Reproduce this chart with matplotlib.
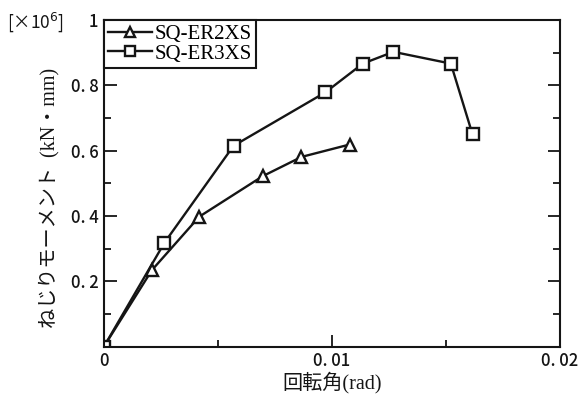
import matplotlib
matplotlib.use("Agg")
import matplotlib.pyplot as plt
from matplotlib.ticker import MultipleLocator, FixedLocator

plt.rcParams['font.family'] = ['Noto Sans CJK JP', 'DejaVu Sans']

er2_x = [0.0, 0.0021, 0.00418, 0.00696, 0.00866, 0.01077]
er2_y = [0.0, 0.234, 0.398, 0.522, 0.581, 0.619]
er3_x = [0.0, 0.00265, 0.00568, 0.00971, 0.01135, 0.01269, 0.01521, 0.01616]
er3_y = [0.0, 0.318, 0.615, 0.779, 0.867, 0.903, 0.867, 0.650]

xticks = [0, 0.01, 0.02]
xticklabels = ['0', '0. 01', '0. 02']
yticks = [0.2, 0.4, 0.6, 0.8, 1.0]
yticklabels = ['0. 2', '0. 4', '0. 6', '0. 8', '1']

ink = '#151515'
fig = plt.figure(figsize=(5.81, 3.96), dpi=100)
ax = fig.add_axes([0.179, 0.125, 0.785, 0.824])

ax.plot(er2_x, er2_y, color=ink, lw=1.7, marker='^', ms=8.5,
        mfc='white', mec=ink, mew=1.7, label='SQ-ER2XS')
ax.plot(er3_x, er3_y, color=ink, lw=1.7, marker='s', ms=8.5,
        mfc='white', mec=ink, mew=1.7, label='SQ-ER3XS')

ax.set_xlim(0, 0.02)
ax.set_ylim(0, 1.0)
ax.xaxis.set_major_locator(FixedLocator(xticks))
ax.set_xticklabels(xticklabels)
ax.xaxis.set_minor_locator(MultipleLocator(0.005))
ax.yaxis.set_major_locator(FixedLocator(yticks))
ax.set_yticklabels(yticklabels)
ax.yaxis.set_minor_locator(MultipleLocator(0.1))
ax.tick_params(which='both', direction='in', right=True, top=False, width=1.3, colors=ink)
ax.tick_params(which='major', length=9, labelsize=12, pad=4)
ax.tick_params(which='minor', length=5)
for lab in ax.get_xticklabels() + ax.get_yticklabels():
    lab.set_fontweight('medium')
for s in ax.spines.values():
    s.set_linewidth(1.5)
    s.set_color(ink)

ax.set_xlabel('回転角(rad)', fontsize=14.5, family=['Liberation Serif', 'Noto Sans CJK JP'],
              labelpad=1, color=ink)
fig.text(0.0843, 0.5, 'ねじりモーメント  (kN・mm)', rotation=90, ha='center', va='center',
         fontsize=14.5, family=['Liberation Serif', 'Noto Sans CJK JP'], color=ink)
fig.text(0.012, 0.945, '[×10$^6$]', fontsize=12.5, ha='left', va='center', color=ink)

leg = ax.legend(loc='upper left', bbox_to_anchor=(0, 1), borderaxespad=0,
                prop={'family': 'Liberation Serif', 'size': 15},
                fancybox=False, edgecolor=ink, framealpha=1,
                handlelength=2.1, handletextpad=0.15, labelspacing=0.0,
                borderpad=0.2, markerscale=0.9)
leg.get_frame().set_linewidth(1.5)

fig.savefig('out.png', dpi=100)
